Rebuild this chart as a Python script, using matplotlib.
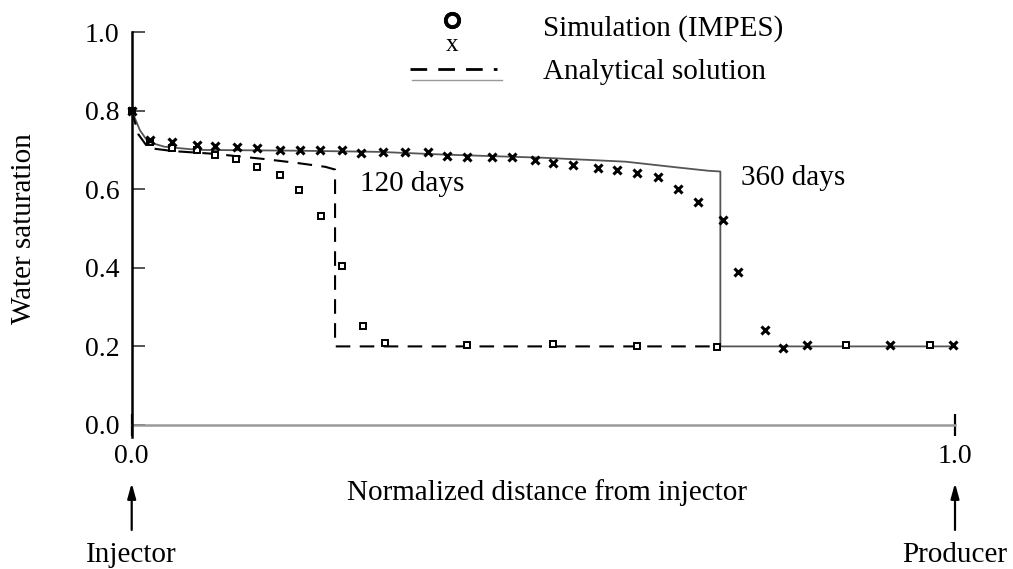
import matplotlib.pyplot as plt

plt.rcParams['font.family'] = ['Liberation Serif', 'DejaVu Serif']

# analytical solution, 120 days (dashed)
x_ana120 = [0.0, 0.008, 0.02, 0.05, 0.10, 0.16, 0.20, 0.235, 0.247, 0.247, 0.712]
s_ana120 = [0.80, 0.74, 0.705, 0.697, 0.690, 0.677, 0.667, 0.657, 0.650, 0.20, 0.20]

# analytical solution, 360 days (solid)
x_ana360 = [0.0, 0.01, 0.02, 0.04, 0.08, 0.20, 0.30, 0.38, 0.50, 0.60, 0.66, 0.70, 0.715, 0.715, 1.0]
s_ana360 = [0.80, 0.75, 0.72, 0.708, 0.700, 0.698, 0.695, 0.688, 0.680, 0.670, 0.656, 0.647, 0.645, 0.20, 0.20]

# IMPES simulation, 120 days
x_sim120 = [0.0, 0.022, 0.049, 0.079, 0.101, 0.127, 0.152, 0.180, 0.203, 0.230, 0.255,
            0.281, 0.308, 0.407, 0.512, 0.614, 0.711, 0.867, 0.970]
s_sim120 = [0.80, 0.72, 0.705, 0.70, 0.687, 0.677, 0.656, 0.637, 0.597, 0.532, 0.405,
            0.252, 0.209, 0.204, 0.206, 0.201, 0.198, 0.204, 0.204]

# IMPES simulation, 360 days
x_sim360 = [0.0, 0.022, 0.049, 0.079, 0.101, 0.128, 0.152, 0.180, 0.205, 0.229, 0.255,
            0.278, 0.305, 0.332, 0.360, 0.383, 0.407, 0.438, 0.462, 0.490, 0.512, 0.536,
            0.566, 0.590, 0.614, 0.639, 0.664, 0.688, 0.718, 0.737, 0.769, 0.791, 0.820,
            0.921, 0.998]
s_sim360 = [0.80, 0.725, 0.72, 0.712, 0.71, 0.707, 0.705, 0.70, 0.70, 0.70, 0.70,
            0.692, 0.694, 0.695, 0.695, 0.684, 0.682, 0.682, 0.682, 0.674, 0.667, 0.662,
            0.654, 0.650, 0.640, 0.630, 0.600, 0.567, 0.522, 0.389, 0.242, 0.196, 0.204,
            0.204, 0.204]

y_ticks = [0.0, 0.2, 0.4, 0.6, 0.8, 1.0]
x_ticks = [0.0, 1.0]

W, H = 1013, 569
FS = 21


def px(x, y):
    # pixel position -> figure fraction
    return x / W, 1 - y / H


fig = plt.figure(figsize=(W / 100, H / 100), dpi=100)
ax = fig.add_axes([131.7 / W, 144 / H, 823.3 / W, 393 / H])
ax.set_xlim(0, 1)
ax.set_ylim(0, 1)

ax.plot(x_ana360, s_ana360, color='#555555', lw=1.3, clip_on=False, zorder=2)
ax.plot(x_ana120, s_ana120, color='black', lw=1.5, dashes=(7, 4.5), clip_on=False, zorder=2)
ax.plot(x_sim120, s_sim120, ls='none', marker='s', ms=4.5, mfc='white', mec='black',
        mew=1.4, clip_on=False, zorder=3)
ax.plot(x_sim360, s_sim360, ls='none', marker='x', ms=6, color='black',
        mew=2.2, clip_on=False, zorder=4)

# axes lines
for side in ['top', 'right', 'left']:
    ax.spines[side].set_visible(False)
ax.spines['bottom'].set_color('#999999')
ax.spines['bottom'].set_linewidth(1.8)
ax.plot([0, 0], [-0.03, 1.0], color='black', lw=1.8, clip_on=False, zorder=5)

ax.set_yticks(y_ticks)
ax.set_yticklabels([f'{v:.1f}' for v in y_ticks])
ax.tick_params(axis='y', direction='in', length=9, width=1.4, color='#555555',
               labelsize=20, pad=9)
ax.set_xticks(x_ticks)
ax.set_xticklabels([f'{v:.1f}' for v in x_ticks])
ax.tick_params(axis='x', direction='inout', length=16, width=1.6, color='black',
               labelsize=20, pad=6)

ax.set_ylabel('Water saturation', fontsize=FS, labelpad=34)
ax.text(0.504, -0.173, 'Normalized distance from injector', transform=ax.transAxes,
        ha='center', va='center', fontsize=FS)

ax.text(0.277, 0.613, '120 days', fontsize=FS, va='center', ha='left')
ax.text(0.740, 0.628, '360 days', fontsize=FS, va='center', ha='left')

# injector / producer arrows
for xv, label in [(0.0, 'Injector'), (1.0, 'Producer')]:
    ax.annotate('', xy=(xv, -0.148), xytext=(xv, -0.267),
                xycoords=('data', 'axes fraction'), textcoords=('data', 'axes fraction'),
                arrowprops=dict(arrowstyle='-|>,head_length=0.9,head_width=0.25',
                                color='black', lw=1.6, shrinkA=0, shrinkB=0),
                annotation_clip=False)
    ax.text(xv, -0.33, label, transform=ax.get_xaxis_transform(), ha='center',
            va='center', fontsize=FS)

# legend drawn by hand
fig.lines.append(plt.Line2D(*zip(px(452, 20), px(452, 20)), marker='o', ms=9.5, mfc='white',
                            mec='black', mew=2.8, transform=fig.transFigure))
fig.text(*px(452, 45), 'x', fontsize=18, ha='center', va='center')
fig.lines.append(plt.Line2D(*zip(px(410, 69), px(497, 69)), color='black', lw=2,
                            dashes=(6, 4), transform=fig.transFigure))
fig.lines.append(plt.Line2D(*zip(px(412, 80), px(502, 80)), color='#999999', lw=1,
                            transform=fig.transFigure))
fig.text(*px(543, 29), 'Simulation (IMPES)', fontsize=FS, ha='left', va='center')
fig.text(*px(543, 72), 'Analytical solution', fontsize=FS, ha='left', va='center')

fig.savefig('out.png', dpi=100)
